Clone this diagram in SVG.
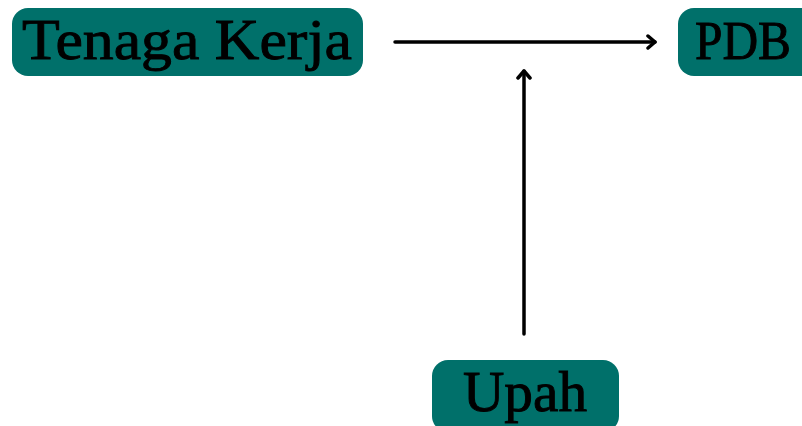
<svg xmlns="http://www.w3.org/2000/svg" width="802" height="426" viewBox="0 0 802 426">
<style>
.box{fill:#00706a}
.lbl{font-family:"Liberation Serif","Times New Roman",serif;fill:#000;stroke:#000;stroke-width:0.9;text-anchor:middle}
.conn{stroke:#000;stroke-width:3.5;fill:none;stroke-linecap:round}
</style>
<defs>
<marker id="ah" viewBox="0 0 14 16" refX="12" refY="8" markerWidth="14" markerHeight="16" markerUnits="userSpaceOnUse" orient="auto">
<path d="M5,2 L12,8 L5,14" fill="none" stroke="#000" stroke-width="3.5" stroke-linecap="round" stroke-linejoin="round"/>
</marker>
</defs>
<rect width="802" height="426" fill="#fff"/>
<g id="tenaga-kerja">
<rect class="box" x="12" y="8" width="351" height="68" rx="16"/>
<text class="lbl" x="187" y="59" font-size="56" textLength="330" lengthAdjust="spacingAndGlyphs">Tenaga Kerja</text>
</g>
<g id="pdb">
<rect class="box" x="678" y="8" width="140" height="68" rx="16"/>
<text class="lbl" x="743" y="59" font-size="54" textLength="96" lengthAdjust="spacingAndGlyphs">PDB</text>
</g>
<g id="upah">
<rect class="box" x="432" y="360" width="187" height="72" rx="16"/>
<text class="lbl" x="525" y="411" font-size="56" textLength="124" lengthAdjust="spacingAndGlyphs">Upah</text>
</g>
<g id="connectors">
<line class="conn" x1="395" y1="42" x2="655" y2="42" marker-end="url(#ah)"/>
<line class="conn" x1="524" y1="334" x2="524" y2="71" marker-end="url(#ah)"/>
</g>
</svg>
